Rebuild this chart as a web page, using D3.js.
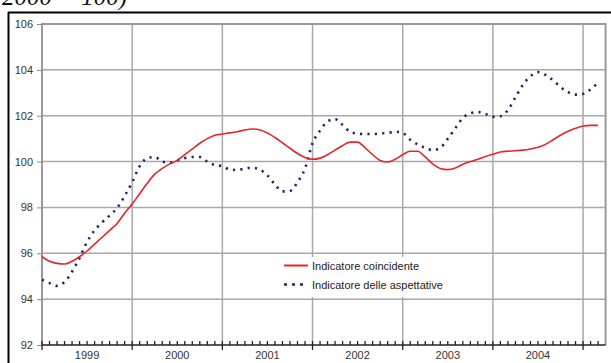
<!DOCTYPE html>
<html><head><meta charset="utf-8">
<script src="https://cdn.jsdelivr.net/npm/d3@7"></script>
<style>body{margin:0;background:#fff}svg{display:block}</style>
</head><body>
<script>
const yearLabels = ["1999","2000","2001","2002","2003","2004"];
const yTicks = [92,94,96,98,100,102,104,106];
// monthly values, Jan 1999 .. Mar 2005
const coincidente = [95.85,95.65,95.56,95.53,95.65,95.85,96.1,96.4,96.7,97.0,97.3,97.75,
 98.15,98.6,99.05,99.45,99.7,99.9,100.05,100.3,100.55,100.8,101.0,101.15,
 101.2,101.25,101.3,101.38,101.42,101.38,101.25,101.05,100.82,100.58,100.35,100.18,
 100.1,100.15,100.3,100.5,100.7,100.85,100.85,100.6,100.3,100.05,99.98,100.1,
 100.3,100.45,100.45,100.2,99.9,99.7,99.65,99.72,99.88,100.0,100.1,100.22,
 100.32,100.42,100.45,100.47,100.5,100.55,100.62,100.75,100.95,101.15,101.32,101.45,
 101.55,101.58,101.58];
const aspettative = [94.85,94.7,94.58,94.75,95.2,95.8,96.5,97.0,97.35,97.65,97.98,98.5,
 99.1,99.8,100.15,100.2,100.0,99.95,100.05,100.15,100.2,100.2,100.0,99.85,
 99.8,99.65,99.63,99.7,99.73,99.65,99.4,99.0,98.7,98.72,99.1,99.7,
 100.8,101.35,101.75,101.85,101.6,101.3,101.22,101.2,101.2,101.23,101.25,101.3,
 101.25,100.95,100.75,100.6,100.5,100.6,101.0,101.45,101.9,102.1,102.16,102.08,
 101.95,101.98,102.25,102.8,103.35,103.72,103.9,103.78,103.55,103.25,103.03,102.92,
 102.95,103.15,103.45];
const seriesNames = ["Indicatore coincidente","Indicatore delle aspettative"];

const W=611,H=363;
const svg=d3.select("body").append("svg").attr("width",W).attr("height",H);
const x=d3.scaleLinear().domain([0,75]).range([42,605.6]);
const y=d3.scaleLinear().domain([92,106]).range([345,24]);

// partial title (cut off at the top, as in the reference)
svg.append("text").attr("x",2).attr("y",5).attr("font-family","Liberation Serif")
 .attr("font-style","italic").attr("font-size",25).attr("fill","#111").text("2000 = 100)");
// outer black frame
svg.append("line").attr("x1",8).attr("x2",W).attr("y1",12.5).attr("y2",12.5).attr("stroke","#000").attr("stroke-width",2);
svg.append("line").attr("x1",8.5).attr("x2",8.5).attr("y1",12).attr("y2",H).attr("stroke","#000").attr("stroke-width",2);

// horizontal grid
svg.append("g").selectAll("line").data(yTicks.slice(1)).join("line")
 .attr("x1",x(0)).attr("x2",x(75)).attr("y1",d=>y(d)).attr("y2",d=>y(d))
 .attr("stroke","#a8a8a8").attr("stroke-width",1.5);
// vertical grid
const yearStarts=d3.range(12,73,12);
svg.append("g").selectAll("line").data(yearStarts).join("line")
 .attr("x1",d=>x(d)).attr("x2",d=>x(d)).attr("y1",y(106)).attr("y2",y(92))
 .attr("stroke","#a8a8a8").attr("stroke-width",1.5);
// plot frame (top/right/left)
svg.append("path").attr("d",`M${x(0)},${y(92)}V${y(106)}H${x(75)}V${y(92)}`)
 .attr("fill","none").attr("stroke","#999").attr("stroke-width",2);

// y axis labels and ticks
const yAxis=d3.axisLeft(y).tickValues(yTicks).tickSize(5).tickPadding(4).tickFormat(d3.format("d"));
const ga=svg.append("g").attr("transform",`translate(${x(0)},0)`).call(yAxis);
ga.select(".domain").remove();
ga.selectAll("line").attr("stroke","#888");
ga.selectAll("text").attr("font-family","Liberation Sans, Arial").attr("font-size",11).attr("fill","#333");

// x axis line
svg.append("line").attr("x1",x(0)).attr("x2",x(75)).attr("y1",y(92)).attr("y2",y(92)).attr("stroke","#222").attr("stroke-width",1.5);
// minor monthly ticks
svg.append("g").selectAll("line").data(d3.range(1,75).filter(m=>m%12!==0)).join("line")
 .attr("x1",d=>x(d)).attr("x2",d=>x(d)).attr("y1",y(92)).attr("y2",y(92)-4)
 .attr("stroke","#222").attr("stroke-width",1.3);
// major ticks
svg.append("g").selectAll("line").data(d3.range(0,73,12)).join("line")
 .attr("x1",d=>x(d)).attr("x2",d=>x(d)).attr("y1",y(92)-4).attr("y2",y(92)+5)
 .attr("stroke","#222").attr("stroke-width",1.3);
// year labels
svg.append("g").selectAll("text").data(yearLabels).join("text")
 .attr("x",(d,i)=>x(i*12+6)).attr("y",359).attr("text-anchor","middle")
 .attr("font-family","Liberation Sans, Arial").attr("font-size",11).attr("fill","#333").text(d=>d);

// lines
const line=d3.line().x((d,i)=>x(i)).y(d=>y(d)).curve(d3.curveMonotoneX);
svg.append("path").datum(aspettative).attr("d",line).attr("fill","none")
 .attr("stroke","#23236b").attr("stroke-width",2.6).attr("stroke-dasharray","2.2,5.2");
svg.append("path").datum(coincidente).attr("d",line).attr("fill","none")
 .attr("stroke","#e3262b").attr("stroke-width",1.6);

// legend
svg.append("rect").attr("x",276).attr("y",257).attr("width",212).attr("height",40).attr("fill","#fff");
const lg=svg.append("g");
lg.append("line").attr("x1",284).attr("x2",308).attr("y1",265.5).attr("y2",265.5).attr("stroke","#e3262b").attr("stroke-width",2);
lg.append("line").attr("x1",284).attr("x2",308).attr("y1",284.5).attr("y2",284.5).attr("stroke","#23236b").attr("stroke-width",2.6).attr("stroke-dasharray","3,5");
lg.selectAll("text").data(seriesNames).join("text")
 .attr("x",312).attr("y",(d,i)=>269.5+i*19)
 .attr("font-family","Liberation Sans, Arial").attr("font-size",11).attr("fill","#222").text(d=>d);
</script>
</body></html>
